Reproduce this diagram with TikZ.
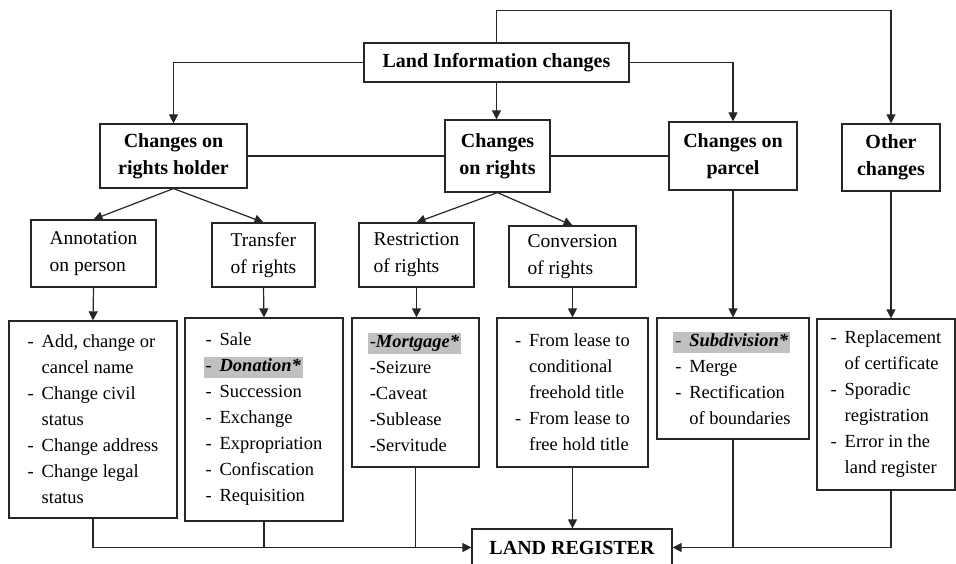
\documentclass[tikz,border=0pt]{standalone}
\usepackage{fontspec}
\setmainfont{Liberation Serif}
\usetikzlibrary{arrows.meta}

\definecolor{hlgray}{RGB}{192,192,192}
\setlength{\fboxsep}{2pt}
\newcommand{\li}{\makebox[14pt][l]{-}}
\newcommand{\lc}{\hspace*{14pt}}
\newcommand{\greyhl}[1]{\hspace*{-2pt}\colorbox{hlgray}{\rule[-4.5pt]{0pt}{15.5pt}#1}}

\begin{document}
\begin{tikzpicture}[
        x=1pt, y=-1pt,
        box/.style={rectangle, draw=black!85, line width=1.2pt, fill=white, inner sep=0pt},
        head/.style={box, align=center, font=\fontsize{20}{27}\selectfont\bfseries},
        sub/.style={box, align=left, font=\fontsize{19.5}{27}\selectfont},
        list/.style={box, align=left, font=\fontsize{18.5}{26}\selectfont},
        arrow/.style={-{Triangle[length=9pt,width=9pt]}, line width=1.2pt, draw=black!85},
        link/.style={line width=1.2pt, draw=black!85}
    ]
        \useasboundingbox (0,0) rectangle (956,564);

        % top level
        \node[head, minimum width=265, minimum height=39] (info) at (496.5,62.5) {Land Information changes};

        % kinds of changes
        \node[head, minimum width=147, minimum height=64] (holder) at (173.5,156) {Changes on\\rights holder};
        \node[head, minimum width=105, minimum height=72] (rights) at (497.5,156) {Changes\\on rights};
        \node[head, minimum width=128, minimum height=68] (parcel) at (733,156) {Changes on\\parcel};
        \node[head, minimum width=98, minimum height=67] (other) at (891,157.5) {Other\\changes};

        % sub kinds
        \node[sub, minimum width=125, minimum height=67] (annot) at (93.5,253.5) {Annotation\\on person};
        \node[sub, minimum width=103, minimum height=64] (transfer) at (263.5,255) {Transfer\\of rights};
        \node[sub, minimum width=115, minimum height=64] (restrict) at (416.5,255) {Restriction\\of rights};
        \node[sub, minimum width=127, minimum height=61] (convert) at (572.5,256.5) {Conversion\\of rights};

        % lists
        \node[list, minimum width=168, minimum height=197] (annotlist) at (93,419.5)
            {\li Add, change or\\\lc cancel name\\\li Change civil\\\lc status\\\li Change address\\\li Change legal\\\lc status};
        \node[list, minimum width=158, minimum height=203] (transferlist) at (264,419.5)
            {\li Sale\\\greyhl{\li\textbf{\textit{Donation*}}}\\\li Succession\\\li Exchange\\\li Expropriation\\\li Confiscation\\\li Requisition};
        \node[list, minimum width=127, minimum height=149] (mortlist) at (415.5,392.5)
            {\greyhl{-\textbf{\textit{Mortgage*}}}\\-Seizure\\-Caveat\\-Sublease\\-Servitude};
        \node[list, minimum width=151, minimum height=149] (convlist) at (572.5,392.5)
            {\li From lease to\\\lc conditional\\\lc freehold title\\\li From lease to\\\lc free hold title};
        \node[list, minimum width=152, minimum height=121] (parcellist) at (733,378.5)
            {\greyhl{\li\textbf{\textit{Subdivision*}}}\\\li Merge\\\li Rectification\\\lc of boundaries};
        \node[list, minimum width=138, minimum height=171] (otherlist) at (886,404.5)
            {\li Replacement\\\lc of certificate\\\li Sporadic\\\lc registration\\\li Error in the\\\lc land register};

        % register
        \node[head, minimum width=200, minimum height=37] (land) at (572,547.5) {LAND REGISTER};

        \draw[arrow] (info.north) -- ++(0,-32) -| (other.north);
        \draw[arrow] (info.west) -| (holder.north);
        \draw[arrow] (info.south) -- (info.south |- rights.north);
        \draw[arrow] (info.east) -| (parcel.north);
        \draw[link] (holder.east) -- (rights.west);
        \draw[link] (rights.east) -- (parcel.west);

        \draw[arrow] (holder.south) -- (annot.north);
        \draw[arrow] (holder.south) -- (transfer.north);
        \draw[arrow] (rights.south) -- (restrict.north);
        \draw[arrow] (rights.south) -- (convert.north);

        \draw[arrow] (annot.south) -- (annotlist.north);
        \draw[arrow] (transfer.south) -- (transferlist.north);
        \draw[arrow] (restrict.south) -- (restrict.south |- mortlist.north);
        \draw[arrow] (convert.south) -- (convlist.north);
        \draw[arrow] (parcel.south) -- (parcellist.north);
        \draw[arrow] (other.south) -- (other.south |- otherlist.north);

        \draw[arrow] (annotlist.south) |- (land.west);
        \draw[link] (transferlist.south) -- (transferlist.south |- land.west);
        \draw[link] (mortlist.south) -- (mortlist.south |- land.west);
        \draw[arrow] (convlist.south) -- (convlist.south |- land.north);
        \draw[link] (parcellist.south) -- (parcellist.south |- land.east);
        \draw[arrow] (other.south |- otherlist.south) |- (land.east);
    \end{tikzpicture}
\end{document}
